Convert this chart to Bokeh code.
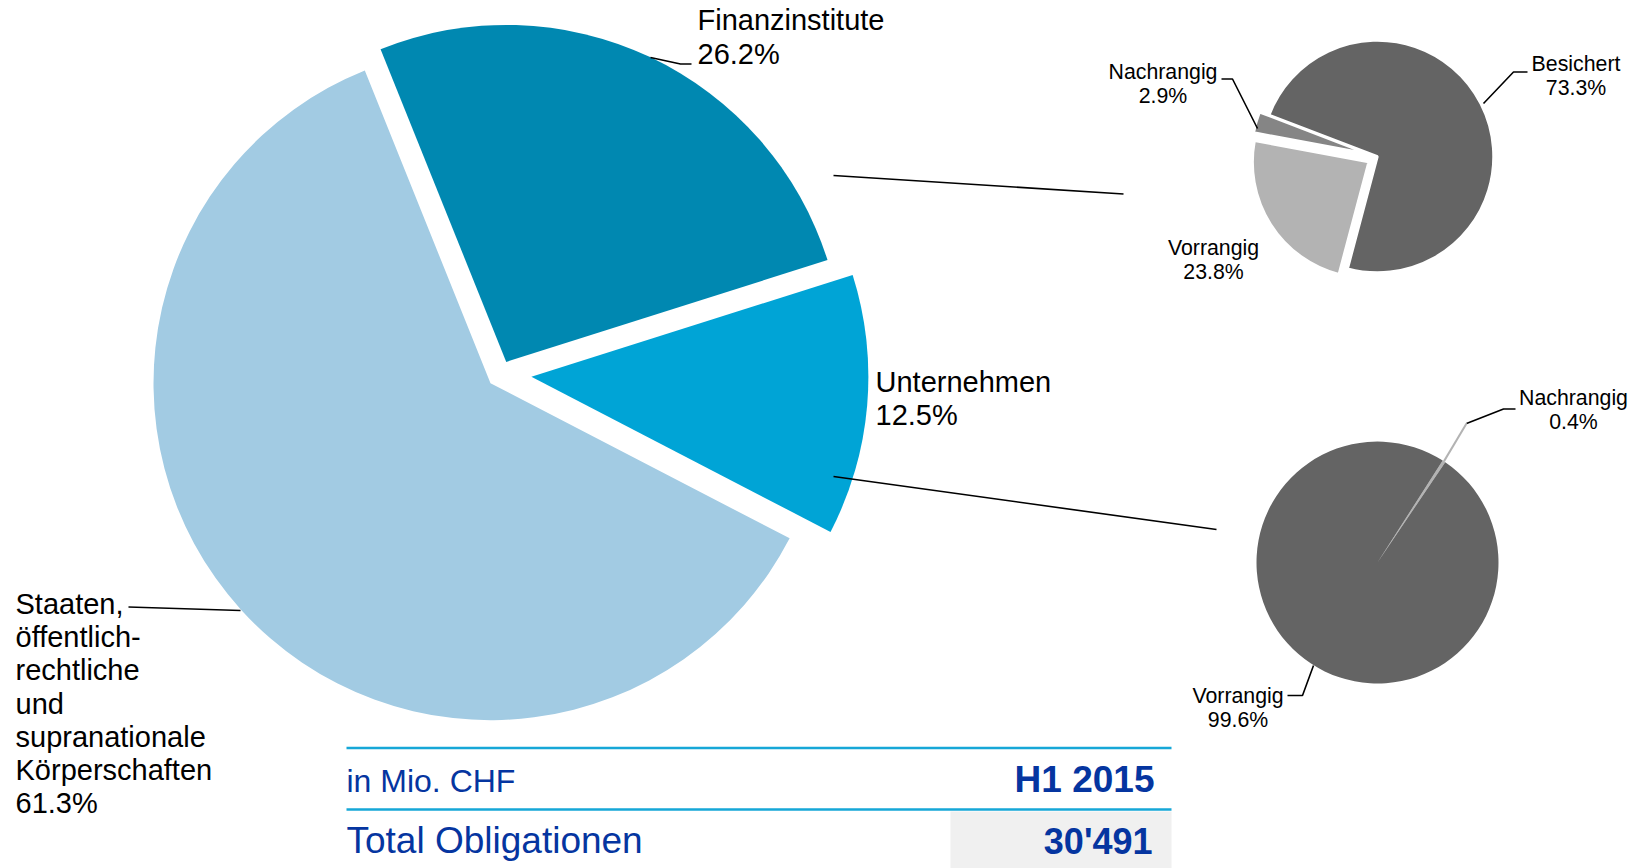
import numpy as np
from bokeh.plotting import figure
from bokeh.models import Range1d, ColumnDataSource
from bokeh.core.properties import value
from bokeh.embed import file_html
from bokeh.resources import INLINE

# ---------------- data ----------------
main_cats = ["Finanzinstitute", "Unternehmen",
             "Staaten,\nöffentlich-\nrechtliche\nund\nsupranationale\nKörperschaften"]
main_pct = [26.2, 12.5, 61.3]

fin_cats = ["Besichert", "Vorrangig", "Nachrangig"]
fin_pct = [73.3, 23.8, 2.9]

unt_cats = ["Nachrangig", "Vorrangig"]
unt_pct = [0.4, 99.6]

table_unit = "in Mio. CHF"
table_period = "H1 2015"
table_row = "Total Obligationen"
table_value = "30'491"

# ---------------- layout / style ----------------
PAGE_W, PAGE_H = 1642, 868
W, H = 1642, 868
FONT = value("Liberation Sans")


def sy(y):
    return PAGE_H - y


p = figure(width=W, height=H, x_range=Range1d(0, W), y_range=Range1d(PAGE_H - H, PAGE_H),
           output_backend="svg", toolbar_location=None, min_border=0,
           x_axis_location=None, y_axis_location=None)
p.grid.visible = False
p.outline_line_color = None
p.background_fill_color = "white"
p.border_fill_color = "white"


def pie(cx, cy, r, pcts, start_deg, explode, colors, line_color=None, lw=0):
    fr = np.array(pcts, dtype=float) / sum(pcts)
    ends = start_deg - 360 * np.cumsum(fr)
    starts = np.concatenate([[start_deg], ends[:-1]])
    mids = np.radians((starts + ends) / 2)
    ex = np.array(explode, dtype=float)
    src = ColumnDataSource(dict(
        x=cx + ex * np.cos(mids), y=sy(cy) + ex * np.sin(mids),
        start=np.radians(ends), end=np.radians(starts), color=colors))
    p.wedge(x="x", y="y", radius=r, start_angle="start", end_angle="end", direction="anticlock",
            fill_color="color", line_color=line_color if line_color else "color",
            line_width=lw, source=src)
    return starts, ends


# table background + rules
p.quad(left=[950], right=[1171], top=[sy(811)], bottom=[sy(875)], fill_color="#F0F0F0", line_color=None)
p.segment(x0=[346, 346], y0=[sy(747.5), sy(809)], x1=[1171, 1171], y1=[sy(747.5), sy(809)],
          line_color="#16A7D7", line_width=2.5)

# main pie
pie(500, 373.6, 337, main_pct, 111.9, [13.5, 31, 13.5], ["#0088B1", "#00A4D6", "#A2CBE3"])
# Finanzinstitute breakdown
pie(1377, 156, 116, fin_pct, 159, [0, 10.5, 10], ["#646464", "#B3B3B3", "#858585"], line_color="white", lw=2.5)
# Unternehmen breakdown
pie(1377, 562, 121, unt_pct, 57.4, [0, 0], ["#B3B3B3", "#646464"])

# connector & leader lines
lines_black = [
    [(833, 175), (1123, 193.5)],
    [(833, 476), (1216, 529)],
    [(650, 57), (680, 63.5), (691, 63.5)],
    [(128, 606.5), (240, 610)],
    [(1483, 103), (1513, 71.5), (1527, 71.5)],
    [(1221, 78.5), (1232, 78.5), (1257, 128)],
    [(1466, 423), (1503, 408.5), (1515, 408.5)],
    [(1287, 695), (1302, 695), (1313, 665)],
]
p.multi_line(xs=[[a[0] for a in l] for l in lines_black], ys=[[sy(a[1]) for a in l] for l in lines_black],
             line_color="black", line_width=1.6)
ang = np.radians(56.7)
p.segment(x0=[1377 + 121 * np.cos(ang)], y0=[sy(562) + 121 * np.sin(ang)], x1=[1466], y1=[sy(423)],
          line_color="#B3B3B3", line_width=2)

SHIFT = 0.35  # em, empirical baseline correction


def label(lines, x, y0, lh, size, align="left", color="black", style="normal"):
    fs = float(size.replace("px", ""))
    src = ColumnDataSource(dict(x=[x] * len(lines),
                                y=[sy(y0 + i * lh - SHIFT * fs) for i in range(len(lines))], t=lines))
    p.text(x="x", y="y", text="t", source=src, text_font=FONT, text_font_size=size,
           text_align=align, text_baseline="alphabetic", text_color=color, text_font_style=style)


def pct_lines(name, v):
    return name.split("\n") + [f"{v:.1f}%"]


# main labels
label(pct_lines(main_cats[0], main_pct[0]), 697, 30, 33.3, "29px")
label(pct_lines(main_cats[1], main_pct[1]), 875, 391.7, 33.3, "29px")
label(pct_lines(main_cats[2], main_pct[2]), 15, 613.3, 33.3, "29px")

# small pie labels
label(pct_lines(fin_cats[0], fin_pct[0]), 1575.5, 71, 24, "21.3px", align="center")
label(pct_lines(fin_cats[1], fin_pct[1]), 1213, 254.5, 24, "21.3px", align="center")
label(pct_lines(fin_cats[2], fin_pct[2]), 1162.5, 78.5, 24, "21.3px", align="center")
label(pct_lines(unt_cats[0], unt_pct[0]), 1573, 405, 23.5, "21.3px", align="center")
label(pct_lines(unt_cats[1], unt_pct[1]), 1237.5, 703.3, 23.5, "21.3px", align="center")

# table texts
BLUE = "#0535A0"
label([table_unit], 346, 791.7, 0, "32px", color=BLUE)
label([table_row], 346, 853.3, 0, "37px", color=BLUE)
label([table_period], 1154, 791.7, 0, "37px", align="right", color=BLUE, style="bold")
label([table_value], 1152, 853.3, 0, "36px", align="right", color=BLUE, style="bold")

open("out.html", "w").write(file_html(p, INLINE))
